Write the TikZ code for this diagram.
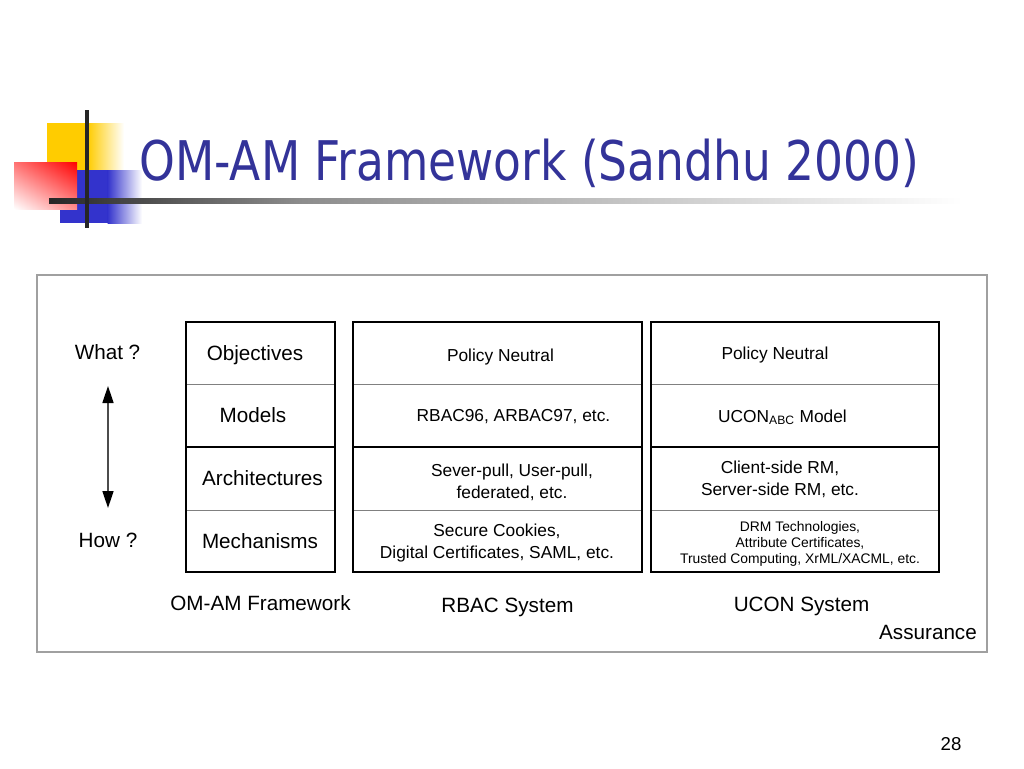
\documentclass[tikz,border=0pt]{standalone}
\usepackage{fontspec}
\setmainfont{Liberation Sans}
\newfontfamily\titlefont{DejaVu Sans}
\usetikzlibrary{arrows.meta,shadings}
\definecolor{titleblue}{HTML}{333399}
\definecolor{logoyellow}{HTML}{FFCC00}
\definecolor{logoblue}{HTML}{3333CC}
\definecolor{logored}{HTML}{FF0000}
\definecolor{framegray}{HTML}{A0A0A0}
\definecolor{rulegray}{HTML}{808080}
\begin{document}
\begin{tikzpicture}[x=0.75pt,y=-0.75pt,
  lbl/.style={inner sep=0pt,anchor=base,font=\fontsize{15.5}{18}\selectfont},
  cell/.style={inner sep=0pt,anchor=base,align=center,font=\fontsize{13}{16.1}\selectfont},
  celltiny/.style={inner sep=0pt,anchor=base,align=center,font=\fontsize{10.4}{11.7}\selectfont},
  outerline/.style={line width=1.5pt,black},
  innerline/.style={line width=0.75pt,rulegray},
  >={Triangle[width=8.25pt,length=12.75pt,color=black]},
]
\useasboundingbox[fill=white] (0,0) rectangle (1024,768);

% logo
\fill[logoyellow] (47,123) rectangle (88,170);
\shade[left color=logoyellow,right color=white] (87.5,123) rectangle (124,170);
\fill[logoblue] (60,170) rectangle (108,223);
\shade[left color=logoblue,right color=white] (107.5,170) rectangle (142,223);
\shade[upper left=logored!55,upper right=logored,lower left=white,lower right=logored!45] (14,162) rectangle (77,209);
\shade[left color=black!85,right color=black!45] (49,198) rectangle (300,203);
\shade[left color=black!45,right color=white] (300,198) rectangle (962,203);
\fill[black!85] (85,110) rectangle (89,228);

% title
\node[anchor=base west,inner sep=0pt,text=titleblue,font=\titlefont\fontsize{41}{48}\selectfont] (title) at (139,180) {\resizebox{585pt}{\height}{OM-AM Framework (Sandhu 2000)}};

% outer frame
\draw[framegray,line width=0.9pt] (37,275) rectangle (987,652);

% column 1
\draw[innerline] (186,384) -- (335,384) (186,510) -- (335,510);
\draw[outerline] (186,322) rectangle (335,572) (186,447) -- (335,447);
% column 2
\draw[innerline] (353,384) -- (642,384) (353,510) -- (642,510);
\draw[outerline] (353,322) rectangle (642,572) (353,447) -- (642,447);
% column 3
\draw[innerline] (651,384) -- (939,384) (651,510) -- (939,510);
\draw[outerline] (651,322) rectangle (939,572) (651,447) -- (939,447);

% left labels and arrow
\node[lbl] (what) at (107.5,359) {What ?};
\node[lbl] (how) at (108,547) {How ?};
\coordinate (atop) at (108,386);
\coordinate (abot) at (108,508);
\draw[line width=1.2pt,black!70,<->] (atop) -- (abot);

% column 1 texts
\node[lbl] (obj) at (255,360) {Objectives};
\node[lbl] (mod) at (253,422) {Models};
\node[lbl] (arch) at (262.5,485) {Architectures};
\node[lbl] (mech) at (260,548) {Mechanisms};

% column 2 texts (multi-line nodes: base = last line)
\node[cell] (rpol) at (500.5,361) {Policy Neutral};
\node[cell] (rmod) at (513.5,421) {RBAC96, ARBAC97, etc.};
\node[cell] (rarch) at (512,498) {Sever-pull, User-pull,\\federated, etc.};
\node[cell] (rmech) at (497,558) {Secure Cookies,\\Digital Certificates, SAML, etc.};

% column 3 texts
\node[cell] (upol) at (775,359) {Policy Neutral};
\node[cell] (umod) at (782.5,422) {UCON\textsubscript{ABC} Model};
\node[cell] (uarch) at (780,495) {Client-side RM,\\Server-side RM, etc.};
\node[celltiny] (umech) at (800,563) {DRM Technologies,\\Attribute Certificates,\\Trusted Computing, XrML/XACML, etc.};

% bottom labels
\node[lbl] (omam) at (260.5,610) {OM-AM Framework};
\node[lbl] (rbac) at (507.5,612) {RBAC System};
\node[lbl] (ucon) at (801.5,611) {UCON System};
\node[lbl] (assur) at (928,639) {Assurance};

% page number
\node[inner sep=0pt,anchor=base,font=\fontsize{14}{16}\selectfont] (pnum) at (951,750) {28};
\end{tikzpicture}
\end{document}
